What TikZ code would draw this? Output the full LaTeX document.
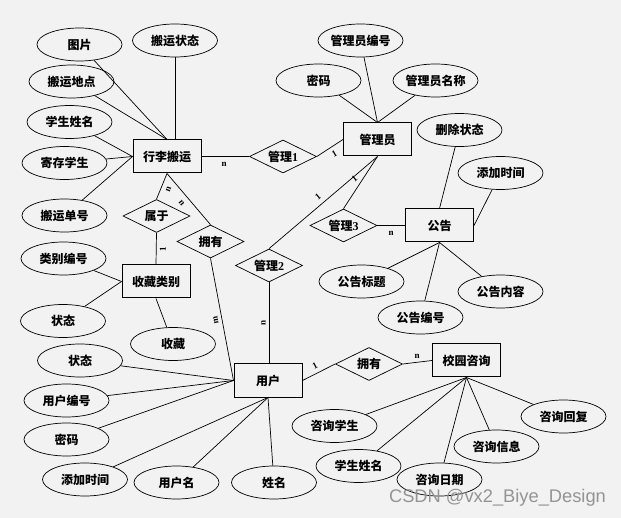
\documentclass[tikz,border=0pt]{standalone}
\usepackage{fontspec}
\usetikzlibrary{shapes.geometric}
\newfontfamily\cjk{Noto Sans CJK SC}
\newfontfamily\lat{Liberation Serif}
\newfontfamily\wmfont{Liberation Sans}
\definecolor{bgc}{RGB}{242,242,242}
\tikzset{
  zh/.style={font=\cjk\bfseries\fontsize{12}{14}\selectfont},
  attr/.style={ellipse, draw, line width=0.7pt, minimum width=85pt, minimum height=33pt, inner sep=0pt, zh},
  ent/.style={rectangle, draw, line width=1pt, minimum width=68pt, minimum height=33pt, inner sep=0pt, zh},
  rel/.style={diamond, draw, line width=0.7pt, minimum width=67pt, minimum height=33pt, inner sep=0pt},
  reltext/.style={zh, inner sep=0pt},
  card/.style={font=\lat\bfseries\fontsize{9}{9}\selectfont, inner sep=0pt},
  conn/.style={line width=0.7pt}
}
\newcommand{\ld}[1]{{\lat\bfseries #1}}
\begin{document}
\begin{tikzpicture}[x=1pt, y=-1pt]
\fill[bgc] (0,0) rectangle (621,518);
\useasboundingbox (0,0) rectangle (621,518);

% entities
\node[ent] (xl) at (167,156.5) {行李搬运};
\node[ent] (gly) at (377.5,139.5) {管理员};
\node[ent] (gg) at (439.5,225.5) {公告};
\node[ent] (sc) at (156,281.5) {收藏类别};
\node[ent] (yh) at (268,380.5) {用户};
\node[ent] (xy) at (466.5,360.5) {校园咨询};

% relations
\node[rel, label={[reltext]center:管理\ld{1}}] (gl1) at (283,156.5) {};
\node[rel, label={[reltext]center:管理\ld{2}}] (gl2) at (269,265.5) {};
\node[rel, label={[reltext]center:管理\ld{3}}] (gl3) at (343.5,225.5) {};
\node[rel, label={[reltext]center:属于}] (sy) at (156.5,216) {};
\node[rel, label={[reltext]center:拥有}] (yy1) at (210.5,241.5) {};
\node[rel, label={[reltext]center:拥有}] (yy2) at (369,364) {};

% attributes of 行李搬运
\node[attr] (a1) at (79.5,44.5) {图片};
\node[attr] (a2) at (175,40.5) {搬运状态};
\node[attr] (a3) at (71.5,81.5) {搬运地点};
\node[attr] (a4) at (69.5,122) {学生姓名};
\node[attr] (a5) at (64.5,163) {寄存学生};
\node[attr] (a6) at (64.5,215.5) {搬运单号};
% attributes of 管理员
\node[attr] (b1) at (360.5,40.5) {管理员编号};
\node[attr] (b2) at (318.5,80.5) {密码};
\node[attr] (b3) at (435.5,80.5) {管理员名称};
% attributes of 公告
\node[attr] (c1) at (459.5,130) {删除状态};
\node[attr] (c2) at (500.5,173) {添加时间};
\node[attr] (c3) at (361.5,281.5) {公告标题};
\node[attr] (c4) at (500.5,291.5) {公告内容};
\node[attr] (c5) at (420.5,317.5) {公告编号};
% attributes of 收藏类别
\node[attr] (d1) at (63.5,258.5) {类别编号};
\node[attr] (d2) at (63,321) {状态};
\node[attr] (d3) at (173,344) {收藏};
% attributes of 用户
\node[attr] (e1) at (80,360.5) {状态};
\node[attr] (e2) at (66.5,400.5) {用户编号};
\node[attr] (e3) at (66.5,439.5) {密码};
\node[attr] (e4) at (85,479.5) {添加时间};
\node[attr] (e5) at (176.5,482.5) {用户名};
\node[attr] (e6) at (274,482.5) {姓名};
% attributes of 校园咨询
\node[attr] (f1) at (334.5,426) {咨询学生};
\node[attr] (f2) at (563.5,416.5) {咨询回复};
\node[attr] (f3) at (496.5,446.5) {咨询信息};
\node[attr] (f4) at (358.5,466) {学生姓名};
\node[attr] (f5) at (439.5,479.5) {咨询日期};

% attribute connectors
\draw[conn] (a1) -- (xl.north);
\draw[conn] (a2) -- (a2 |- xl.north);
\draw[conn] (a3) -- (xl.north);
\draw[conn] (a4) -- (xl.west);
\draw[conn] (a5) -- (xl.west);
\draw[conn] (a6) -- (xl.west);
\draw[conn] (b1) -- (gly.north);
\draw[conn] (b2) -- (gly.north);
\draw[conn] (b3) -- (gly.north);
\draw[conn] (c1) -- (gg.north);
\draw[conn] (c2) -- (gg.east);
\draw[conn] (c3) -- (gg.south);
\draw[conn] (c4) -- (gg.south);
\draw[conn] (c5) -- (gg.south);
\draw[conn] (d1) -- (sc.west);
\draw[conn] (d2) -- (sc.west);
\draw[conn] (d3) -- (sc.south);
\draw[conn] (e1) -- (yh.west);
\draw[conn] (e2) -- (yh.west);
\draw[conn] (e3) -- (yh.west);
\draw[conn] (e4) -- (yh.south);
\draw[conn] (e5) -- (yh.south);
\draw[conn] (e6) -- (yh.south);
\draw[conn] (f1) -- (xy.south);
\draw[conn] (f2) -- (xy.south);
\draw[conn] (f3) -- (xy.south);
\draw[conn] (f4) -- (xy.south);
\draw[conn] (f5) -- (xy.south);

% relationship connectors
\draw[conn] (xl.east) -- (gl1.west);
\draw[conn] (gl1.east) -- (gly.west);
\draw[conn] (xl.south) -- (sy.north);
\draw[conn] (xl.south) -- (yy1.north);
\draw[conn] (sy.south) -- (sc.north);
\draw[conn] (yy1.south) -- (yh.west);
\draw[conn] (gly.south) -- (gl2.north);
\draw[conn] (gly.south) -- (gl3.north);
\draw[conn] (gl3.east) -- (gg.west);
\draw[conn] (gl2.south) -- (gl2.south |- yh.north);
\draw[conn] (yh.east) -- (yy2.west);
\draw[conn] (yy2.east) -- (xy.west);

% cardinalities
\node[card] (k1) at (224,164) {n};
\node[card, rotate=29] (k2) at (334.5,153.5) {1};
\node[card, rotate=69] (k3) at (168.5,189) {n};
\node[card, rotate=-51] (k4) at (181.5,203.5) {n};
\node[card, rotate=90] (k5) at (163,249) {1};
\node[card, rotate=100] (k6) at (216,320) {m};
\node[card, rotate=90] (k7) at (263.5,322.5) {n};
\node[card, rotate=39.5] (k8) at (318,197) {1};
\node[card, rotate=39.5] (k9) at (354.5,179) {1};
\node[card] (k10) at (391,233) {n};
\node[card, rotate=28] (k11) at (315,366) {1};
\node[card] (k12) at (417,356) {n};

% watermark
\node[font=\wmfont\fontsize{18.3}{20}\selectfont, text=black!42, inner sep=0pt] (wm) at (497.5,498) {CSDN @vx2\_Biye\_Design};
\end{tikzpicture}
\end{document}
